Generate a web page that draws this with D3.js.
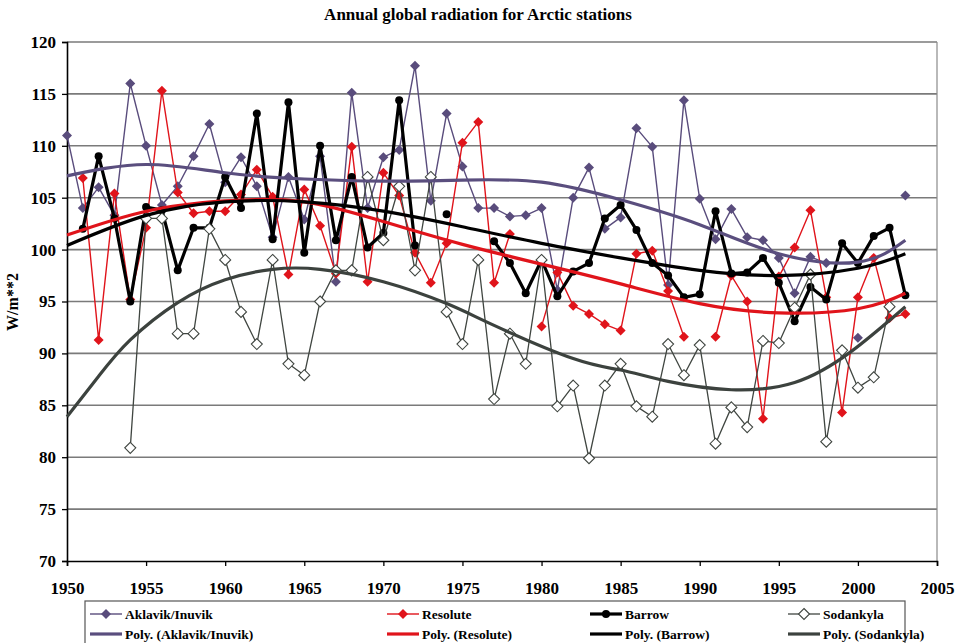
<!DOCTYPE html>
<html><head><meta charset="utf-8">
<script src="https://cdn.jsdelivr.net/npm/d3@7"></script>
<style>
html,body{margin:0;padding:0;background:#fff;}
svg text{font-family:"Liberation Serif","Times New Roman",serif;font-weight:bold;}
</style></head>
<body>
<svg id="chart" width="966" height="643"></svg>
<script>
const years = d3.range(1950, 2004);
const aklavik = [111.0,104.0,106.0,103.3,116.0,110.0,104.3,106.1,109.0,112.1,106.5,108.9,106.1,101.2,107.0,102.9,109.0,96.9,115.1,104.0,108.9,109.6,117.7,104.7,113.1,108.0,104.0,104.0,103.2,103.3,104.0,96.1,105.0,107.9,102.0,103.1,111.7,109.9,96.6,114.4,104.9,101.0,103.9,101.2,100.9,99.2,95.8,99.3,98.7,null,91.5,null,null,105.2];
const resolute = [null,106.9,91.3,105.4,95.2,102.1,115.3,105.5,103.5,103.7,103.7,105.3,107.7,105.1,97.6,105.8,102.3,97.7,109.9,96.9,107.4,105.2,99.7,96.8,100.6,110.3,112.3,96.8,101.5,null,92.6,97.8,94.6,93.8,92.8,92.2,99.6,99.9,96.0,91.6,null,91.6,97.5,95.0,83.7,97.4,100.2,103.8,95.4,84.3,95.4,99.2,93.4,93.8];
const barrow = [null,102.0,109.0,103.0,95.0,104.1,103.8,98.0,102.1,102.1,107.0,104.0,113.1,101.0,114.2,99.7,110.0,100.9,107.0,100.2,101.6,114.4,100.4,null,103.4,null,null,100.8,98.7,95.8,99.0,95.5,97.9,98.7,103.0,104.3,101.9,98.7,97.5,95.4,95.7,103.7,97.7,97.8,99.2,96.8,93.1,96.4,95.2,100.6,98.7,101.3,102.1,95.6];
const sodankyla = [null,null,null,null,80.9,103.0,103.0,91.9,91.9,102.0,99.0,94.0,90.9,99.0,89.0,87.9,95.0,98.0,98.0,107.0,100.9,106.1,98.0,107.0,94.0,90.9,99.0,85.6,91.9,89.0,99.0,84.9,86.9,79.9,86.9,89.0,84.9,83.9,90.9,87.9,90.8,81.3,84.8,82.9,91.2,91.0,94.4,97.6,81.5,90.3,86.7,87.7,94.5,null];

const trendYears = [1950,1955,1960,1965,1970,1975,1980,1985,1990,1995,2000,2003];
const aklavikTrend = [107.1,108.2,107.4,106.8,106.6,106.7,106.5,104.8,102.4,99.6,98.8,100.9];
const resoluteTrend = [101.4,103.7,104.7,104.6,102.7,100.5,98.6,96.7,94.8,93.9,94.3,95.8];
const barrowTrend = [100.4,103.3,104.6,104.6,103.7,102.2,100.6,99.2,98.0,97.5,98.2,99.6];
const sodTrendYears = [1950,1952,1954,1957,1960,1963,1966,1970,1974,1977,1982,1985,1988,1992,1996,1999.5,2003];
const sodankylaTrend = [83.9,87.8,91.3,94.9,97.1,98.1,98.1,96.9,94.8,92.7,89.5,88.4,87.3,86.5,87.2,90.1,94.5];

const yTicks = d3.range(70, 121, 5);
const xTicks = d3.range(1950, 2006, 5);

const svg = d3.select("#chart");
const x = d3.scaleLinear().domain([1950, 2005]).range([67, 937]);
const y = d3.scaleLinear().domain([70, 120]).range([561, 42]);

// gridlines
svg.append("g").selectAll("line").data(yTicks.filter(v => v > 70)).join("line")
  .attr("x1", x(1950)).attr("x2", x(2005))
  .attr("y1", d => y(d)).attr("y2", d => y(d))
  .attr("stroke", "#7a7a7a").attr("stroke-width", 1.6);
svg.append("line").attr("x1", x(2005)).attr("x2", x(2005)).attr("y1", y(120)).attr("y2", y(70))
  .attr("stroke", "#8a8a8a").attr("stroke-width", 1.2);

// axes
const yAxis = svg.append("g").attr("transform", `translate(${x(1950)},0)`)
  .call(d3.axisLeft(y).tickValues(yTicks).tickSize(5).tickPadding(6).tickFormat(d3.format("d")));
const xAxis = svg.append("g").attr("transform", `translate(0,${y(70)})`)
  .call(d3.axisBottom(x).tickValues(xTicks).tickSize(5).tickPadding(16).tickFormat(d3.format("d")));
[yAxis, xAxis].forEach(a => {
  a.select(".domain").attr("stroke", "#000").attr("stroke-width", 1.6);
  a.selectAll(".tick line").attr("stroke", "#000").attr("stroke-width", 1.3);
  a.selectAll("text").attr("font-size", 17).attr("fill", "#000")
    .attr("font-family", "Liberation Serif, serif").attr("font-weight", "bold");
});

// title & axis label
svg.append("text").attr("x", 478).attr("y", 20).attr("text-anchor", "middle")
  .attr("font-size", 17).text("Annual global radiation for Arctic stations");
svg.append("text").attr("transform", "translate(18,302) rotate(-90)").attr("text-anchor", "middle")
  .attr("font-size", 16).text("W/m**2");

// square diamond (rotated square) marker
const diamondPath = r => `M0,${-r}L${r},0L0,${r}L${-r},0Z`;

const series = [
  {name: "Aklavik/Inuvik", vals: aklavik, color: "#594c7c", w: 1.4, marker: "diamond", fill: "#594c7c", size: 5},
  {name: "Resolute", vals: resolute, color: "#e0141b", w: 1.4, marker: "diamond", fill: "#e0141b", size: 5},
  {name: "Barrow", vals: barrow, color: "#000000", w: 3.2, marker: "circle", fill: "#000000", size: 4},
  {name: "Sodankyla", vals: sodankyla, color: "#404641", w: 1.3, marker: "diamond", fill: "#ffffff", size: 5.5}
];

const lineGen = d3.line().defined(d => d.v != null).x(d => x(d.yr)).y(d => y(d.v));

series.forEach(s => {
  const pts = years.map((yr, i) => ({yr, v: s.vals[i]}));
  svg.append("path").datum(pts).attr("d", lineGen).attr("fill", "none")
    .attr("stroke", s.color).attr("stroke-width", s.w).attr("stroke-linejoin", "round");
  const g = svg.append("g");
  const valid = pts.filter(d => d.v != null);
  if (s.marker === "circle") {
    g.selectAll("circle").data(valid).join("circle")
      .attr("cx", d => x(d.yr)).attr("cy", d => y(d.v)).attr("r", s.size).attr("fill", s.fill);
  } else {
    g.selectAll("path").data(valid).join("path")
      .attr("transform", d => `translate(${x(d.yr)},${y(d.v)})`)
      .attr("d", diamondPath(s.size)).attr("fill", s.fill)
      .attr("stroke", s.fill === "#ffffff" ? s.color : "none").attr("stroke-width", 1.1);
  }
});

const trends = [
  {name: "Poly. (Aklavik/Inuvik)", xs: trendYears, vals: aklavikTrend, color: "#5a4e7e"},
  {name: "Poly. (Resolute)", xs: trendYears, vals: resoluteTrend, color: "#e0141b"},
  {name: "Poly. (Barrow)", xs: trendYears, vals: barrowTrend, color: "#000000"},
  {name: "Poly. (Sodankyla)", xs: sodTrendYears, vals: sodankylaTrend, color: "#3c423e"}
];
const trendGen = d3.line().curve(d3.curveNatural).x(d => x(d.yr)).y(d => y(d.v));
trends.forEach(t => {
  const pts = t.xs.map((yr, i) => ({yr, v: t.vals[i]}));
  svg.append("path").datum(pts).attr("d", trendGen).attr("fill", "none")
    .attr("stroke", t.color).attr("stroke-width", 3.2);
});

// legend
const lg = svg.append("g");
lg.append("rect").attr("x", 85).attr("y", 601).attr("width", 820).attr("height", 50)
  .attr("fill", "#fff").attr("stroke", "#555").attr("stroke-width", 1.2);
const colX = [90, 387, 590, 788];
series.forEach((s, i) => {
  const cx = colX[i], cy = 614;
  lg.append("line").attr("x1", cx).attr("x2", cx + 32).attr("y1", cy).attr("y2", cy)
    .attr("stroke", s.color).attr("stroke-width", s.w);
  if (s.marker === "circle") {
    lg.append("circle").attr("cx", cx + 16).attr("cy", cy).attr("r", 4).attr("fill", s.fill);
  } else {
    lg.append("path").attr("transform", `translate(${cx + 16},${cy})`)
      .attr("d", diamondPath(s.size)).attr("fill", s.fill)
      .attr("stroke", s.fill === "#ffffff" ? s.color : "none").attr("stroke-width", 1.1);
  }
  lg.append("text").attr("x", cx + 35).attr("y", cy + 5).attr("font-size", 13.5).text(s.name);
});
trends.forEach((t, i) => {
  const cx = colX[i], cy = 634;
  lg.append("line").attr("x1", cx).attr("x2", cx + 32).attr("y1", cy).attr("y2", cy)
    .attr("stroke", t.color).attr("stroke-width", 3.2);
  lg.append("text").attr("x", cx + 35).attr("y", cy + 5).attr("font-size", 13.5).text(t.name);
});
</script>
</body></html>
